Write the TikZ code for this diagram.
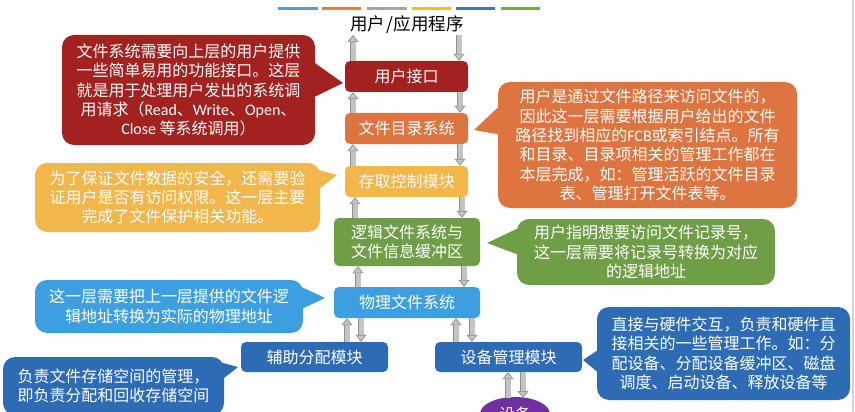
\documentclass[tikz,border=0pt]{standalone}
\usepackage{fontspec}
\setmainfont{Noto Sans CJK SC}
\newfontfamily\lat{Carlito}
\usetikzlibrary{arrows.meta,shapes.geometric}
\definecolor{cred}{HTML}{A3211F}
\definecolor{corange}{HTML}{DE7540}
\definecolor{cyellow}{HTML}{F3B64B}
\definecolor{cgreen}{HTML}{6F9E46}
\definecolor{clblue}{HTML}{3D9FE0}
\definecolor{cdblue}{HTML}{2D6CB5}
\definecolor{cpurple}{HTML}{7030A0}
\definecolor{cgl}{HTML}{C4C4C4}
\definecolor{cgd}{HTML}{8E8E8E}
\definecolor{barA}{HTML}{5B9BD5}
\definecolor{barB}{HTML}{ED7D31}
\definecolor{barC}{HTML}{A5A5A5}
\definecolor{barD}{HTML}{FFC000}
\definecolor{barE}{HTML}{4472C4}
\definecolor{barF}{HTML}{70AD47}
\newcommand\barr[2]{\draw[barout] #1 -- #2; \draw[barin] #1 -- #2;}
\begin{document}
\begin{tikzpicture}[x=1pt,y=-1pt,
  box/.style={rounded corners=5pt, text=white, inner sep=0pt, align=center,
    font=\fontsize{16}{19.3}\selectfont},
  balloon/.style={rounded corners=12pt, text=white, inner sep=0pt, align=center,
    font=\fontsize{16}{19.3}\selectfont},
  barout/.style={draw=cgd, line width=6.4pt, shorten >=5pt},
  barin/.style={draw=cgl, line width=5pt,
    -{Triangle[length=7pt,width=11pt,line width=0.7pt,fill=cgl,color=cgd]}},
  cbar/.style={line width=3pt}]
\clip (0,0) rectangle (855,412);
\fill[white] (0,0) rectangle (855,412);
\draw[gray!35, line width=1.5pt] (853,0) -- (853,412);

% colour bars
\draw[cbar, barA] (278,9) -- (318,9);
\draw[cbar, barB] (322,9) -- (361,9);
\draw[cbar, barC] (367,9) -- (407,9);
\draw[cbar, barD] (412,9) -- (451,9);
\draw[cbar, barE] (456,9) -- (495,9);
\draw[cbar, barF] (501,9) -- (540,9);

% title
\node[font=\fontsize{17.5}{20}\selectfont] (app) at (407,25) {用户\kern1pt/\kern1pt应用程序};

% main layers
\node[box, fill=cred, minimum width=123, minimum height=31] (uif) at (406.5,76.5) {用户接口};
\node[box, fill=corange, minimum width=123, minimum height=31] (fdir) at (406.5,128.5) {文件目录系统};
\node[box, fill=cyellow, minimum width=123, minimum height=31] (acc) at (406.5,181.5) {存取控制模块};
\node[box, fill=cgreen, minimum width=146, minimum height=48] (lfs) at (407,242) {逻辑文件系统与\\文件信息缓冲区};
\node[box, fill=clblue, minimum width=146, minimum height=31] (pfs) at (407,302.5) {物理文件系统};
\node[box, fill=cdblue, minimum width=147, minimum height=30] (aux) at (314.5,357) {辅助分配模块};
\node[box, fill=cdblue, minimum width=147, minimum height=30] (dev) at (508.5,357) {设备管理模块};
\node[ellipse, fill=cpurple, text=white, inner sep=0pt, minimum width=70, minimum height=34,
  font=\fontsize{16}{19.3}\selectfont] (devc) at (515,414) {设备};

% block arrows
\coordinate (tl) at (353,35);
\coordinate (tr) at (459,35);
\barr{(353,0 |- uif.north)}{(tl)}
\barr{(tr)}{(459,0 |- uif.north)}
\barr{(353,0 |- fdir.north)}{(353,0 |- uif.south)}
\barr{(460,0 |- uif.south)}{(460,0 |- fdir.north)}
\barr{(353,0 |- acc.north)}{(353,0 |- fdir.south)}
\barr{(460,0 |- fdir.south)}{(460,0 |- acc.north)}
\barr{(355,0 |- lfs.north)}{(355,0 |- acc.south)}
\barr{(462,0 |- acc.south)}{(462,0 |- lfs.north)}
\barr{(358,0 |- pfs.north)}{(358,0 |- lfs.south)}
\barr{(464,0 |- lfs.south)}{(464,0 |- pfs.north)}
\barr{(347,0 |- aux.north)}{(347,0 |- pfs.south)}
\barr{(361,0 |- pfs.south)}{(361,0 |- aux.north)}
\barr{(456,0 |- dev.north)}{(456,0 |- pfs.south)}
\barr{(472,0 |- pfs.south)}{(472,0 |- dev.north)}
\barr{(508,398)}{(508,0 |- dev.south)}
\barr{(523,0 |- dev.south)}{(523,398)}

% balloons
\coordinate (p1) at (343,83);
\fill[cred] (305,56) -- (p1) -- (308,100) -- cycle;
\node[balloon, fill=cred, minimum width=253, minimum height=110] (b1) at (188.5,90)
  {文件系统需要向上层的用户提供\\一些简单易用的功能接口。这层\\就是用于处理用户发出的系统调\\用请求（{\lat Read}、{\lat Write}、{\lat Open}、\\{\lat Close} 等系统调用）};

\coordinate (p2) at (474,130);
\fill[corange] (508,98) -- (p2) -- (508,136) -- cycle;
\node[balloon, fill=corange, minimum width=299, minimum height=126] (b2) at (647.5,145)
  {用户是通过文件路径来访问文件的，\\因此这一层需要根据用户给出的文件\\路径找到相应的{\lat FCB}或索引结点。所有\\和目录、目录项相关的管理工作都在\\本层完成，如：管理活跃的文件目录\\表、管理打开文件表等。};

\coordinate (p3) at (337,175);
\fill[cyellow] (308,167) -- (p3) -- (310,196) -- cycle;
\node[balloon, fill=cyellow, minimum width=285, minimum height=69] (b3) at (177.5,197.5)
  {为了保证文件数据的安全，还需要验\\证用户是否有访问权限。这一层主要\\完成了文件保护相关功能。};

\coordinate (p4) at (487,243);
\fill[cgreen] (527,224) -- (p4) -- (527,258) -- cycle;
\node[balloon, fill=cgreen, minimum width=258, minimum height=66] (b4) at (646,252)
  {用户指明想要访问文件记录号，\\这一层需要将记录号转换为对应\\的逻辑地址};

\coordinate (p5) at (325,298);
\fill[clblue] (293,283) -- (p5) -- (293,313) -- cycle;
\node[balloon, fill=clblue, minimum width=268, minimum height=53] (b5) at (169,306.5)
  {这一层需要把上一层提供的文件逻\\辑地址转换为实际的物理地址};

\coordinate (p6) at (238,367);
\fill[cdblue] (212,360) -- (p6) -- (214,386) -- cycle;
\node[balloon, fill=cdblue, align=left, minimum width=221, minimum height=58] (b6) at (113.5,386)
  {负责文件存储空间的管理，\\即负责分配和回收存储空间};

\coordinate (p7) at (583,360);
\fill[cdblue] (607,344) -- (p7) -- (607,380) -- cycle;
\node[balloon, fill=cdblue, minimum width=253, minimum height=93] (b7) at (723.5,353.5)
  {直接与硬件交互，负责和硬件直\\接相关的一些管理工作。如：分\\配设备、分配设备缓冲区、磁盘\\调度、启动设备、释放设备等};
\end{tikzpicture}
\end{document}
